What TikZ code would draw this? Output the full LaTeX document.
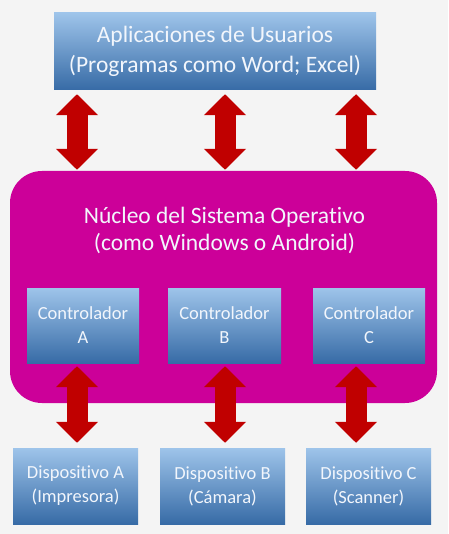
\documentclass[tikz,border=0pt]{standalone}
\usepackage{fontspec}
\setmainfont{Carlito}[Ligatures=NoCommon]
\usetikzlibrary{arrows.meta}
\definecolor{bgcol}{HTML}{F4F4F4}
\definecolor{boxtop}{HTML}{9EC4EA}
\definecolor{boxbot}{HTML}{376BA6}
\definecolor{nuccol}{HTML}{CC0099}
\definecolor{arrcol}{HTML}{C00000}
\definecolor{txtcol}{HTML}{F2F6FC}
\tikzset{
  bluebox/.style={rectangle, inner sep=0pt, top color=boxtop, bottom color=boxbot,
    text=txtcol, align=center},
  nucbox/.style={rectangle, rounded corners=32pt, fill=nuccol, inner sep=0pt},
  dblarrow/.style={line width=21pt, draw=arrcol,
    {Triangle[length=21pt, width=41pt]}-{Triangle[length=21pt, width=41pt]}}
}
\begin{document}
\begin{tikzpicture}[x=1pt, y=-1pt]
    \fill[bgcol] (0,0) rectangle (448,534);
    \useasboundingbox (0,0) rectangle (448,534);

    % --- aplicaciones ---
    \node[bluebox, minimum width=322pt, minimum height=77pt,
      font=\fontsize{23.5}{30}\selectfont] (app) at (215,51.5)
      {Aplicaciones de Usuarios\\(Programas como Word; Excel)};

    % --- nucleo ---
    \node[nucbox, minimum width=427pt, minimum height=232pt] (nuc) at (223.5,287) {};
    \node[text=txtcol, align=center, font=\fontsize{23.5}{27}\selectfont] (nuclab) at (224.5,230)
      {Núcleo del Sistema Operativo\\(como Windows o Android)};

    % --- controladores ---
    \node[bluebox, minimum width=112pt, minimum height=75pt,
      font=\fontsize{18.5}{24}\selectfont] (ctlA) at (83,325.5) {Controlador\\A};
    \node[bluebox, minimum width=113pt, minimum height=75pt,
      font=\fontsize{18.5}{24}\selectfont] (ctlB) at (224.5,325.5) {Controlador\\B};
    \node[bluebox, minimum width=112pt, minimum height=75pt,
      font=\fontsize{18.5}{24}\selectfont] (ctlC) at (369,325.5) {Controlador\\C};

    % --- dispositivos ---
    \node[bluebox, minimum width=125pt, minimum height=76pt,
      font=\fontsize{18.5}{24}\selectfont] (devA) at (75.5,486) {Dispositivo A\\(Impresora)};
    \node[bluebox, minimum width=125pt, minimum height=76pt,
      font=\fontsize{18.5}{24}\selectfont] (devB) at (222.5,486) {Dispositivo B\\(Cámara)};
    \node[bluebox, minimum width=125pt, minimum height=76pt,
      font=\fontsize{18.5}{24}\selectfont] (devC) at (368.5,486) {Dispositivo C\\(Scanner)};

    % --- flechas ---
    \coordinate (xA) at (77,0);
    \coordinate (xB) at (225,0);
    \coordinate (xC) at (356,0);
    \draw[dblarrow, shorten <=4pt, shorten >=1pt] (app.south -| xA) -- (nuc.north -| xA);
    \draw[dblarrow, shorten <=4pt, shorten >=1pt] (app.south -| xB) -- (nuc.north -| xB);
    \draw[dblarrow, shorten <=4pt, shorten >=1pt] (app.south -| xC) -- (nuc.north -| xC);
    \draw[dblarrow, shorten <=3pt, shorten >=5pt] (ctlA.south -| xA) -- (devA.north -| xA);
    \draw[dblarrow, shorten <=3pt, shorten >=5pt] (ctlB.south -| xB) -- (devB.north -| xB);
    \draw[dblarrow, shorten <=3pt, shorten >=5pt] (ctlC.south -| xC) -- (devC.north -| xC);
\end{tikzpicture}
\end{document}
